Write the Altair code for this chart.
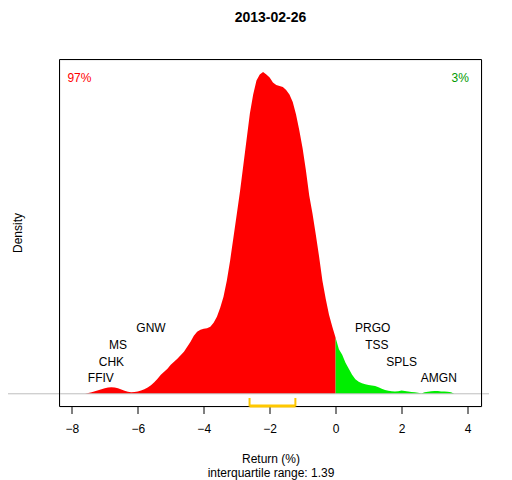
import altair as alt
import pandas as pd

# Density curve of returns (%)
ret = [round(-7.6 + 0.1 * i, 1) for i in range(113)]
dens = [
    0.0000, 0.0008, 0.0015, 0.0025, 0.0035, 0.0045, 0.0055, 0.0063, 0.0066, 0.0063,
    0.0055, 0.0043, 0.0030, 0.0020, 0.0016, 0.0018, 0.0023, 0.0032, 0.0045, 0.0062,
    0.0085, 0.0115, 0.0150, 0.0190, 0.0220, 0.0250, 0.0290, 0.0320, 0.0350, 0.0385,
    0.0420, 0.0470, 0.0520, 0.0580, 0.0620, 0.0640, 0.0650, 0.0655, 0.0670, 0.0710,
    0.0770, 0.0860, 0.0970, 0.1130, 0.1330, 0.1560, 0.1790, 0.2020, 0.2280, 0.2540,
    0.2800, 0.2990, 0.3130, 0.3190, 0.3216, 0.3190, 0.3160, 0.3110, 0.3085, 0.3075,
    0.3065, 0.3035, 0.2990, 0.2916, 0.2790, 0.2630, 0.2450, 0.2230, 0.1980, 0.1800,
    0.1590, 0.1370, 0.1130, 0.0950, 0.0790, 0.0670, 0.0560, 0.0445, 0.0390, 0.0310,
    0.0250, 0.0190, 0.0145, 0.0120, 0.0106, 0.0095, 0.0088, 0.0084, 0.0078, 0.0065,
    0.0050, 0.0038, 0.0030, 0.0025, 0.0023, 0.0026, 0.0032, 0.0029, 0.0022, 0.0018,
    0.0016, 0.0010, 0.0002, 0.0016, 0.0020, 0.0025, 0.0027, 0.0027, 0.0024, 0.0022,
    0.0020, 0.0016, 0.0000,
]

tickers = ["FFIV", "CHK", "MS", "GNW", "PRGO", "TSS", "SPLS", "AMGN"]
ticker_x = [-7.12, -6.80, -6.60, -5.60, 1.125, 1.25, 2.00, 3.13]
ticker_y = [0.0156, 0.0316, 0.0490, 0.0660, 0.0660, 0.0490, 0.0316, 0.0156]

pct_labels = ["97%", "3%"]
pct_x = [-7.77, 3.78]
pct_y = [0.316, 0.316]
pct_colors = ["#FF0000", "#009A00"]

iqr_low, iqr_high = -2.61, -1.22
iqr_text = "interquartile range: 1.39"
title_text = "2013-02-26"

df = pd.DataFrame({"ret": ret, "dens": dens})
neg = df[df["ret"] <= 0]
pos = df[df["ret"] >= 0]

XDOM = [-8.374, 4.425]
YDOM = [-0.0127, 0.334]
FONT = "Liberation Sans"

x_enc = alt.X(
    "ret:Q",
    scale=alt.Scale(domain=XDOM, nice=False, zero=False),
    axis=alt.Axis(
        values=[-8, -6, -4, -2, 0, 2, 4],
        format="d",
        grid=False,
        domain=False,
        tickSize=7,
        tickColor="black",
        labelColor="black",
        labelFontSize=12,
        labelFont=FONT,
        labelPadding=10,
        title=["Return (%)", iqr_text],
        titleFont=FONT,
        titleFontSize=12,
        titleFontWeight="normal",
        titleColor="black",
        titleLineHeight=14.4,
        titleBaseline="alphabetic",
        titleY=55.6,
    ),
)
y_enc = alt.Y(
    "dens:Q",
    scale=alt.Scale(domain=YDOM, nice=False, zero=False),
    axis=alt.Axis(
        labels=False,
        ticks=False,
        domain=False,
        grid=False,
        title="Density",
        titleFont=FONT,
        titleFontSize=12,
        titleFontWeight="normal",
        titleColor="black",
        titleX=-42,
        titleY=173,
        titleAlign="center",
        titleBaseline="middle",
    ),
)

red = alt.Chart(neg).mark_area(color="#FF0000", interpolate="linear").encode(x=x_enc, y=y_enc)
green = alt.Chart(pos).mark_area(color="#00EE00", interpolate="linear").encode(x="ret:Q", y="dens:Q")

base_line = alt.Chart(pd.DataFrame({"y": [0.0]})).mark_rule(
    color="#BEBEBE", strokeWidth=1, clip=False
).encode(y="y:Q", x=alt.value(-52), x2=alt.value(432))

frame = alt.Chart(pd.DataFrame({"f": [0]})).mark_rect(
    fill=None, stroke="black", strokeWidth=1, clip=False
).encode(x=alt.value(0), x2=alt.value(422), y=alt.value(0), y2=alt.value(347))

iqr_df = pd.DataFrame({"lo": [iqr_low], "hi": [iqr_high]})
iqr_h = alt.Chart(iqr_df).mark_rule(color="#FFC800", strokeWidth=3).encode(
    x="lo:Q", x2="hi:Q", y=alt.value(346.5)
)
iqr_ends = alt.Chart(pd.DataFrame({"e": [iqr_low, iqr_high]})).mark_rule(
    color="#FFC800", strokeWidth=2
).encode(x="e:Q", y=alt.value(338.5), y2=alt.value(347))

tick_df = pd.DataFrame({"t": tickers, "x": ticker_x, "y": ticker_y})
tick_text = alt.Chart(tick_df).mark_text(
    font=FONT, fontSize=12, color="black", baseline="middle", align="center"
).encode(x="x:Q", y="y:Q", text="t:N")

pct_df = pd.DataFrame({"t": pct_labels, "x": pct_x, "y": pct_y, "c": pct_colors})
pct_text = alt.Chart(pct_df).mark_text(
    font=FONT, fontSize=12, baseline="middle", align="center"
).encode(x="x:Q", y="y:Q", text="t:N", color=alt.Color("c:N", scale=None))

chart = (
    alt.layer(red, green, base_line, frame, iqr_h, iqr_ends, tick_text, pct_text)
    .properties(
        width=422,
        height=347,
        title=alt.TitleParams(
            text=title_text,
            font=FONT,
            fontSize=14,
            fontWeight="bold",
            color="black",
            anchor="middle",
            baseline="alphabetic",
            offset=23,
        ),
        autosize=alt.AutoSizeParams(type="none"),
        padding={"left": 51.5, "top": 51.5, "right": 7, "bottom": 73.5},
    )
    .configure_view(stroke="black", strokeWidth=1)
    .configure(background="white")
)

chart.save("out.html", embed_options={"renderer": "svg", "actions": False})
